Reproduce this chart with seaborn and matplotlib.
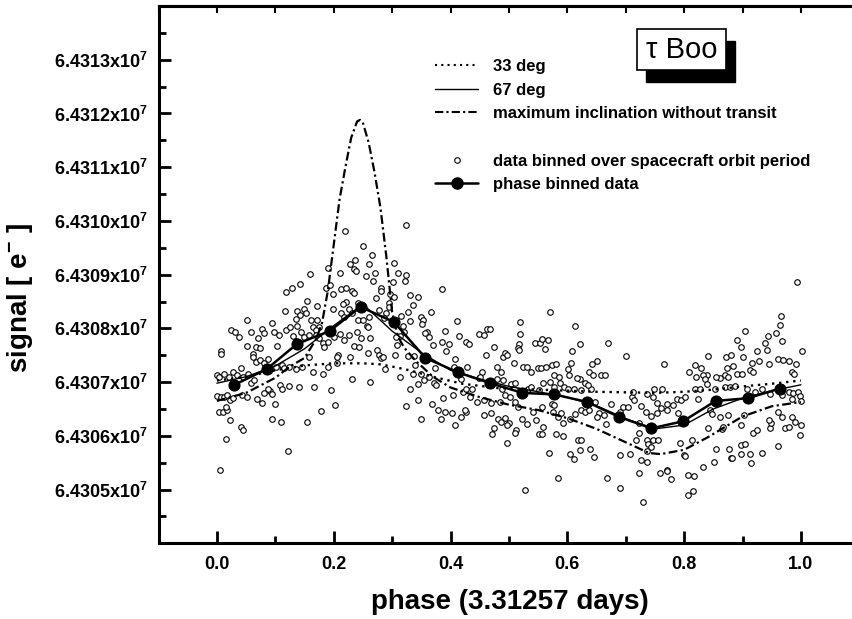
import pandas as pd
import seaborn as sns
import matplotlib.pyplot as plt
from matplotlib.lines import Line2D
from matplotlib.patches import Rectangle
from matplotlib.ticker import MultipleLocator, FixedLocator, FuncFormatter

# data binned over spacecraft orbit period (open circles)
orbit_phase = [
    0.220, 0.237, 0.228, 0.234, 0.239, 0.211, 0.160, 0.191,
    0.142, 0.129, 0.119, 0.186, 0.194, 0.213, 0.221, 0.231,
    0.235, 0.198, 0.155, 0.221, 0.216, 0.171, 0.117, 0.137,
    0.150, 0.153, 0.142, 0.135, 0.199, 0.213, 0.218, 0.226,
    0.232, 0.052, 0.095, 0.161, 0.172, 0.165, 0.175, 0.170,
    0.078, 0.081, 0.097, 0.107, 0.118, 0.125, 0.138, 0.024,
    0.031, 0.037, 0.058, 0.071, 0.067, 0.074, 0.051, 0.061,
    0.062, 0.103, 0.130, 0.136, 0.144, 0.150, 0.158, 0.169,
    0.175, 0.181, 0.184, 0.190, 0.201, 0.211, 0.218, 0.226,
    0.240, 0.235, 0.207, 0.205, 0.228, 0.007, 0.007, 0.067,
    0.074, 0.081, 0.088, 0.101, 0.111, 0.115, 0.124, 0.136,
    0.146, 0.158, 0.164, 0.182, 0.191, 0.206, 0.232, 0.001,
    0.004, 0.013, 0.020, 0.028, 0.035, 0.041, 0.045, 0.054,
    0.058, 0.064, 0.167, 0.140, 0.124, 0.108, 0.112, 0.091,
    0.094, 0.087, 0.081, 0.195, 0.000, 0.007, 0.013, 0.018,
    0.022, 0.028, 0.043, 0.051, 0.068, 0.078, 0.100, 0.003,
    0.010, 0.018, 0.015, 0.022, 0.041, 0.045, 0.094, 0.110,
    0.154, 0.178, 0.203, 0.015, 0.121, 0.005,
    0.323, 0.251, 0.265, 0.260, 0.255, 0.268, 0.271, 0.303,
    0.310, 0.324, 0.322, 0.301, 0.281, 0.281, 0.297, 0.304,
    0.295, 0.294, 0.273, 0.278, 0.290, 0.286, 0.242, 0.241,
    0.250, 0.261, 0.257, 0.259, 0.247, 0.263, 0.244, 0.259,
    0.331, 0.344, 0.336, 0.327, 0.315, 0.330, 0.318, 0.321,
    0.314, 0.307, 0.309, 0.367, 0.385, 0.350, 0.353, 0.351,
    0.360, 0.357, 0.364, 0.370, 0.274, 0.277, 0.281, 0.284,
    0.288, 0.305, 0.314, 0.263, 0.327, 0.337, 0.340, 0.336,
    0.350, 0.345, 0.355, 0.364, 0.358, 0.373, 0.371, 0.375,
    0.330, 0.344, 0.324, 0.349, 0.368, 0.378, 0.383, 0.391,
    0.402, 0.387, 0.404, 0.407, 0.390, 0.385, 0.397, 0.393,
    0.407, 0.411, 0.415, 0.427, 0.431, 0.406, 0.417, 0.429,
    0.418, 0.421, 0.426, 0.448, 0.457, 0.463, 0.467, 0.474,
    0.461, 0.480, 0.487, 0.490, 0.480, 0.448, 0.454, 0.451,
    0.437, 0.434, 0.446, 0.458, 0.470, 0.484, 0.457, 0.469,
    0.481, 0.486, 0.474, 0.471, 0.427, 0.424, 0.418,
    0.571, 0.519, 0.519, 0.518, 0.515, 0.517, 0.493, 0.497,
    0.614, 0.622, 0.670, 0.700, 0.544, 0.554, 0.557, 0.567,
    0.561, 0.608, 0.643, 0.650, 0.657, 0.664, 0.637, 0.644,
    0.508, 0.524, 0.531, 0.537, 0.550, 0.555, 0.563, 0.573,
    0.580, 0.578, 0.586, 0.587, 0.601, 0.607, 0.603, 0.622,
    0.490, 0.504, 0.511, 0.489, 0.494, 0.502, 0.511, 0.533,
    0.538, 0.551, 0.558, 0.570, 0.578, 0.594, 0.601, 0.611,
    0.624, 0.641, 0.630, 0.635, 0.616, 0.515, 0.541, 0.557,
    0.574, 0.578, 0.575, 0.584, 0.590, 0.604, 0.614, 0.624,
    0.630, 0.638, 0.647, 0.655, 0.662, 0.650, 0.666, 0.674,
    0.690, 0.695, 0.704, 0.710, 0.713, 0.714, 0.723, 0.727,
    0.734, 0.493, 0.500, 0.496, 0.513, 0.510, 0.523, 0.531,
    0.551, 0.557, 0.546, 0.558, 0.580, 0.592, 0.593, 0.618,
    0.624, 0.621, 0.639, 0.646, 0.604, 0.611, 0.568, 0.497,
    0.584, 0.527, 0.668, 0.690, 0.690, 0.707, 0.717, 0.723,
    0.736, 0.738, 0.727, 0.736, 0.723, 0.729,
    0.994, 0.966, 0.965, 0.957, 0.967, 0.904, 0.891, 0.897,
    0.943, 0.939, 0.942, 0.925, 1.002, 0.961, 0.970, 0.979,
    0.992, 0.984, 0.988, 0.945, 0.928, 0.917, 0.913, 0.918,
    0.901, 0.841, 0.871, 0.881, 0.884, 0.891, 0.899, 0.874,
    0.870, 0.875, 0.861, 0.855, 0.840, 0.832, 0.829, 0.818,
    0.808, 0.821, 0.766, 0.818, 0.827, 0.836, 0.840, 0.853,
    0.870, 0.878, 0.888, 0.907, 0.921, 0.933, 0.947, 0.968,
    0.979, 0.987, 0.995, 0.999, 1.000, 0.985, 0.736, 0.749,
    0.747, 0.762, 0.770, 0.753, 0.771, 0.781, 0.790, 0.787,
    0.795, 0.802, 0.754, 0.760, 0.744, 0.824, 0.844, 0.847,
    0.861, 0.875, 0.898, 0.918, 0.924, 0.903, 0.947, 0.949,
    0.945, 0.960, 0.968, 0.973, 0.979, 0.984, 0.990, 1.001,
    0.999, 0.747, 0.755, 0.744, 0.736, 0.793, 0.813, 0.799,
    0.802, 0.841, 0.865, 0.867, 0.833, 0.807, 0.817, 0.851,
    0.880, 0.882, 0.898, 0.905, 0.898, 0.913, 0.914, 0.933,
    0.961, 0.855, 0.877, 0.758, 0.770, 0.771, 0.777, 0.807,
    0.815,
]
orbit_signal = [
    64309810, 64309270, 64309190, 64309100, 64309060, 64309030, 64309010, 64309120,
    64308830, 64308760, 64308680, 64308750, 64308810, 64308730, 64308750, 64308690,
    64308660, 64308640, 64308510, 64308500, 64308460, 64308420, 64308330, 64308330,
    64308360, 64308290, 64308250, 64308170, 64308360, 64308280, 64308220, 64308360,
    64308280, 64308150, 64308100, 64308150, 64308160, 64308030, 64308020, 64307970,
    64307990, 64307920, 64307940, 64307880, 64307970, 64308030, 64308050, 64307970,
    64307940, 64307840, 64307940, 64307820, 64307660, 64307630, 64307670, 64307520,
    64307460, 64307670, 64307850, 64307770, 64307940, 64307840, 64307880, 64307870,
    64307820, 64307720, 64307650, 64307750, 64307840, 64307890, 64307790, 64307880,
    64307940, 64307670, 64307510, 64307460, 64307470, 64307570, 64307520, 64307380,
    64307410, 64307350, 64307430, 64307290, 64307310, 64307260, 64307290, 64307240,
    64307290, 64307460, 64307180, 64307160, 64307290, 64307360, 64307050, 64307130,
    64307090, 64307150, 64307090, 64307180, 64307130, 64307260, 64307100, 64307150,
    64306990, 64307040, 64306910, 64306900, 64306930, 64306950, 64306870, 64306840,
    64306780, 64306870, 64306790, 64306850, 64306740, 64306720, 64306730, 64306760,
    64306670, 64306700, 64306760, 64306730, 64306680, 64306620, 64306590, 64306450,
    64306450, 64306480, 64306540, 64306290, 64306170, 64306110, 64306320, 64306260,
    64306260, 64306470, 64306570, 64305940, 64305720, 64305360,
    64309930, 64309540, 64309370, 64309200, 64308970, 64308890, 64309040, 64309220,
    64309030, 64309000, 64308890, 64308870, 64308750, 64308690, 64308640, 64308580,
    64308480, 64308400, 64308560, 64308350, 64308280, 64308190, 64308480, 64308160,
    64308160, 64308220, 64308050, 64308020, 64307820, 64307820, 64307660, 64307540,
    64308630, 64308590, 64308440, 64308300, 64308230, 64308130, 64308050, 64307940,
    64307860, 64307840, 64307690, 64308300, 64308730, 64308220, 64308160, 64308080,
    64307940, 64307910, 64307840, 64307690, 64307600, 64307510, 64307440, 64307460,
    64307240, 64307510, 64307100, 64307010, 64307490, 64307490, 64307320, 64307160,
    64307150, 64306960, 64307040, 64307100, 64307470, 64307260, 64306990, 64306950,
    64306880, 64306670, 64306550, 64306320, 64306600, 64306490, 64306320, 64306450,
    64306430, 64306710, 64306760, 64306200, 64307960, 64307740, 64307710, 64307570,
    64307430, 64308130, 64307860, 64307740, 64307710, 64307290, 64307190, 64307290,
    64307050, 64306820, 64306880, 64307900, 64307880, 64307990, 64307990, 64307650,
    64307510, 64307290, 64307190, 64307470, 64307050, 64307070, 64307190, 64307100,
    64306870, 64306730, 64306630, 64306670, 64306620, 64306630, 64306390, 64306430,
    64306310, 64306260, 64306140, 64306040, 64306450, 64306480, 64306350,
    64308300, 64308110, 64307900, 64307710, 64307630, 64307590, 64307550, 64307510,
    64308050, 64307710, 64307720, 64307490, 64307720, 64307720, 64307810, 64307790,
    64307610, 64307570, 64307330, 64307400, 64307130, 64307130, 64307190, 64307130,
    64307360, 64307290, 64307280, 64307190, 64307260, 64307260, 64307280, 64307320,
    64307340, 64307130, 64307100, 64306990, 64307240, 64307360, 64307130, 64307060,
    64307030, 64306960, 64306990, 64306880, 64306760, 64306730, 64306630, 64306880,
    64306910, 64306850, 64306980, 64307010, 64306900, 64306900, 64306880, 64306870,
    64306850, 64306870, 64306980, 64306950, 64307070, 64306540, 64306450, 64306530,
    64306590, 64306570, 64306450, 64306350, 64306420, 64306310, 64306400, 64306490,
    64306450, 64306480, 64306630, 64306420, 64306390, 64306350, 64306220, 64306600,
    64306450, 64306540, 64306540, 64306730, 64306820, 64306670, 64306230, 64306550,
    64306450, 64306340, 64306230, 64306200, 64306110, 64306060, 64306310, 64306220,
    64306030, 64306040, 64306290, 64306170, 64306040, 64305990, 64306230, 64305930,
    64305930, 64305730, 64305750, 64305610, 64305660, 64305560, 64305680, 64305870,
    64305210, 64304990, 64305220, 64305640, 64305020, 64305670, 64305920, 64306060,
    64305930, 64305850, 64305550, 64305510, 64305300, 64304770,
    64308860, 64308230, 64308070, 64307920, 64307770, 64307950, 64307790, 64307660,
    64307860, 64307720, 64307590, 64307580, 64307580, 64307430, 64307410, 64307400,
    64307340, 64307190, 64307160, 64307340, 64307390, 64307360, 64307220, 64307180,
    64307470, 64307490, 64307470, 64307510, 64307300, 64307160, 64307160, 64307260,
    64307130, 64307100, 64307070, 64307100, 64307130, 64307130, 64307260, 64307320,
    64307190, 64307100, 64307330, 64306880, 64306880, 64307050, 64306960, 64306880,
    64306910, 64306910, 64306930, 64306880, 64306820, 64306880, 64306780, 64306760,
    64306820, 64306790, 64306820, 64306740, 64306650, 64306680, 64306780, 64306880,
    64306730, 64306870, 64306600, 64306620, 64306490, 64306570, 64306420, 64306680,
    64306670, 64306720, 64306430, 64306510, 64306370, 64306680, 64306480, 64306400,
    64306350, 64306390, 64306200, 64306060, 64306110, 64306390, 64306140, 64306230,
    64306290, 64306450, 64306350, 64306140, 64306170, 64306350, 64306260, 64306200,
    64306010, 64305920, 64305920, 64305790, 64305720, 64305870, 64305920, 64305640,
    64305620, 64306140, 64306120, 64306170, 64305420, 64305270, 64305250, 64305510,
    64305580, 64305580, 64305830, 64305850, 64305670, 64305660, 64305500, 64305680,
    64305810, 64305760, 64305760, 64305300, 64305370, 64305350, 64305190, 64304890,
    64304970,
]

# phase binned data (filled circles)
bin_phase = [0.030, 0.085, 0.137, 0.193, 0.246, 0.303, 0.357, 0.413, 0.468,
             0.523, 0.578, 0.634, 0.689, 0.744, 0.798, 0.854, 0.909, 0.964]
bin_signal = [64306950, 64307240, 64307710, 64307950, 64308400, 64308120,
              64307450, 64307180, 64306980, 64306800, 64306770, 64306630,
              64306350, 64306140, 64306270, 64306650, 64306700, 64306880]

# model curves
deg33_phase = [0.0, 0.05, 0.10, 0.15, 0.20, 0.25, 0.28, 0.30, 0.33, 0.37,
               0.42, 0.48, 0.55, 0.65, 0.75, 0.80, 0.85, 0.90, 0.95, 1.0]
deg33_signal = [64307030, 64307100, 64307220, 64307310, 64307350, 64307350,
                64307330, 64307290, 64307220, 64307100, 64306970, 64306890,
                64306860, 64306820, 64306800, 64306820, 64306860, 64306920,
                64306970, 64307030]

deg67_phase = [0.0, 0.05, 0.10, 0.15, 0.20, 0.25, 0.30, 0.35, 0.40, 0.45, 0.50,
               0.55, 0.60, 0.65, 0.70, 0.75, 0.80, 0.85, 0.90, 0.95, 1.0]
deg67_signal = [64306980, 64307100, 64307300, 64307620, 64308050, 64308450,
                64307950, 64307550, 64307220, 64307060, 64306920, 64306820,
                64306720, 64306560, 64306320, 64306130, 64306200, 64306500,
                64306700, 64306840, 64306950]

maxinc_phase = [0.0, 0.05, 0.10, 0.125, 0.15, 0.17, 0.18, 0.19, 0.20, 0.21, 0.22,
                0.23, 0.24, 0.245, 0.25, 0.26, 0.27, 0.28, 0.29, 0.30, 0.31, 0.32,
                0.34, 0.37, 0.40, 0.45, 0.50, 0.55, 0.60, 0.65, 0.70, 0.74, 0.76,
                0.80, 0.84, 0.90, 0.95, 1.0]
maxinc_signal = [64306650, 64306800, 64307080, 64307290, 64307450, 64307800,
                 64308100, 64308700, 64309550, 64310400, 64311000, 64311550,
                 64311850, 64311880, 64311830, 64311450, 64310900, 64310250,
                 64309350, 64308300, 64307850, 64307650, 64307400, 64307100,
                 64306900, 64306720, 64306580, 64306480, 64306330, 64306130,
                 64305880, 64305680, 64305660, 64305740, 64305970, 64306360,
                 64306550, 64306630]

y_ticks = [64305000, 64306000, 64307000, 64308000, 64309000,
           64310000, 64311000, 64312000, 64313000]
legend_labels = ["33 deg", "67 deg", "maximum inclination without transit", " ",
                 "data binned over spacecraft orbit period", "phase binned data"]

sns.set_style("white")
plt.rcParams['font.family'] = ['Liberation Sans', 'DejaVu Sans']
plt.rcParams['font.weight'] = 'bold'
plt.rcParams['axes.labelweight'] = 'bold'
plt.rcParams['text.color'] = 'black'
plt.rcParams['axes.labelcolor'] = 'black'
plt.rcParams['xtick.color'] = 'black'
plt.rcParams['ytick.color'] = 'black'
plt.rcParams['mathtext.fontset'] = 'custom'
plt.rcParams['mathtext.rm'] = 'Liberation Sans:bold'
plt.rcParams['mathtext.it'] = 'Liberation Sans:bold'
plt.rcParams['mathtext.bf'] = 'Liberation Sans:bold'

W, H = 852, 619
fig = plt.figure(figsize=(W / 100, H / 100), dpi=100)
ax = fig.add_axes([158.5 / W, 1 - 543.3 / H, 700.8 / W, 537.3 / H])

orbit = pd.DataFrame({'phase': orbit_phase, 'signal': orbit_signal})
sns.scatterplot(data=orbit, x='phase', y='signal', ax=ax, marker='o', s=16,
                color='white', edgecolor='black', linewidth=0.8, zorder=2, legend=False)

dot_ls = (0, (1, 2))
dashdot_ls = (0, (4, 1.5, 1, 1.5))
sns.lineplot(x=deg33_phase, y=deg33_signal, ax=ax, color='black', lw=1.7,
             linestyle=dot_ls, sort=False, estimator=None, zorder=3)
sns.lineplot(x=deg67_phase, y=deg67_signal, ax=ax, color='black', lw=1.0,
             sort=False, estimator=None, zorder=3)
sns.lineplot(x=maxinc_phase, y=maxinc_signal, ax=ax, color='black', lw=1.6,
             linestyle=dashdot_ls, sort=False, estimator=None, zorder=3)
sns.lineplot(x=bin_phase, y=bin_signal, ax=ax, color='black', lw=1.8,
             marker='o', markersize=8, markeredgecolor='black',
             sort=False, estimator=None, zorder=4)

ax.set_xlim(-0.1, 1.1)
ax.set_ylim(6.4304e7, 6.4314e7)
ax.xaxis.set_major_locator(MultipleLocator(0.2))
ax.xaxis.set_minor_locator(MultipleLocator(0.1))
ax.yaxis.set_major_locator(FixedLocator(y_ticks))
ax.yaxis.set_minor_locator(MultipleLocator(500))
ax.xaxis.set_major_formatter(FuncFormatter(lambda v, p: f"{v:.1f}"))
ax.yaxis.set_major_formatter(FuncFormatter(lambda v, p: f"{v / 1e7:.4f}x10$^{{7}}$"))
ax.tick_params(axis='both', which='both', left=True, bottom=True, right=False, top=False)
ax.tick_params(axis='both', which='major', direction='in', length=8.6, width=2,
               labelsize=13, pad=8, colors='black')
ax.tick_params(axis='both', which='minor', direction='in', length=5, width=2,
               colors='black')
ax.tick_params(axis='x', pad=9)

top = ax.secondary_xaxis('top')
top.xaxis.set_major_locator(MultipleLocator(0.1))
top.tick_params(direction='in', top=True, length=5, width=1.5, labeltop=False, colors='black')
top.spines['top'].set_linewidth(2.2)

for side in ['left', 'bottom', 'top']:
    ax.spines[side].set_linewidth(2.2)
    ax.spines[side].set_color('black')
ax.spines['right'].set_visible(False)

ax.set_xlabel('phase (3.31257 days)', fontsize=20, color='black')
ax.set_ylabel(r'signal [ e$^{-}$ ]', fontsize=20, color='black')
ax.xaxis.set_label_coords(0.5015, -0.085)
ax.yaxis.set_label_coords(-0.176, 0.456)

handles = [
    Line2D([], [], color='black', lw=1.5, ls=dot_ls),
    Line2D([], [], color='black', lw=1.0),
    Line2D([], [], color='black', lw=1.5, ls=dashdot_ls),
    Line2D([], [], color='none'),
    Line2D([], [], ls='none', marker='o', ms=4, mfc='white', mec='black', mew=0.8),
    Line2D([], [], color='black', lw=1.8, marker='o', ms=8),
]
leg = fig.legend(handles, legend_labels, loc='upper left',
                 bbox_to_anchor=(435 / W, 1 - 59 / H), bbox_transform=fig.transFigure,
                 frameon=False, fontsize=12, handlelength=2.6, handletextpad=0.9,
                 labelspacing=0.52, borderpad=0, borderaxespad=0)
for t in leg.get_texts():
    t.set_color('black')

# tau Boo label box with drop shadow
bx0, bx1, by0, by1 = 637.3, 726, 29.3, 70
fig.patches.append(Rectangle(((bx0 + 9) / W, 1 - (by1 + 12) / H), (bx1 - bx0) / W,
                             (by1 - by0) / H, transform=fig.transFigure,
                             facecolor='black', edgecolor='black', zorder=5))
fig.patches.append(Rectangle((bx0 / W, 1 - by1 / H), (bx1 - bx0) / W, (by1 - by0) / H,
                             transform=fig.transFigure, facecolor='white',
                             edgecolor='black', lw=1.2, zorder=6))
fig.text((bx0 + bx1) / 2 / W, 1 - (by0 + by1) / 2 / H, "τ Boo", fontsize=21,
         fontweight='normal', ha='center', va='center', zorder=7, color='black')

assert len(orbit_phase) == len(orbit_signal)
fig.savefig('out.png', dpi=100)
